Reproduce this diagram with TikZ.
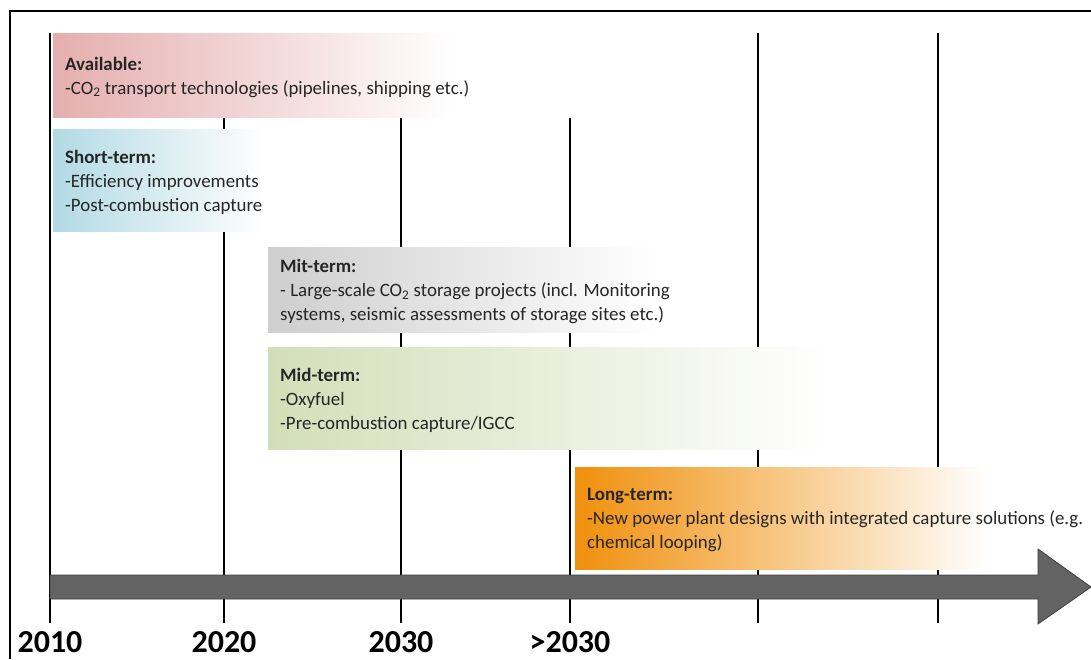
\documentclass[tikz,border=0pt]{standalone}
\usepackage{fontspec}
\setmainfont{Carlito}
\definecolor{availcol}{RGB}{229,174,174}
\definecolor{shortcol}{RGB}{178,218,228}
\definecolor{mitcol}{RGB}{206,206,206}
\definecolor{midcol}{RGB}{211,222,184}
\definecolor{longcol}{RGB}{240,144,12}
\definecolor{arrowcol}{RGB}{99,99,99}
\definecolor{inkcol}{RGB}{38,38,38}
\begin{document}
\begin{tikzpicture}[x=1pt,y=-1pt,
  tick/.style={line width=1.7pt,black},
  frame/.style={line width=2pt,black},
  termbox/.style={anchor=north west,inner sep=0pt,draw=none,
    shading=axis,shading angle=90,right color=white},
  termtext/.style={anchor=west,align=left,inner sep=0pt,text=inkcol,
    font=\fontsize{18.9}{24}\selectfont},
  year/.style={anchor=base,inner sep=0pt,font=\fontsize{32}{32}\selectfont\bfseries}]
\useasboundingbox (0,0) rectangle (1091,659);

% outer frame: top and left edge only
\coordinate (frameNW) at (10,11);
\coordinate (frameNE) at (1091,11);
\coordinate (frameSW) at (10,659);
\draw[frame] (frameSW) -- (frameNW) -- (frameNE);

% decade ticks
\foreach \name/\x/\top in {t2010/50/33, t2020/224/118, t2030/401/118, t2040/570/118, t2050/758/33, t2060/938/33}{
  \coordinate (\name top) at (\x,\top);
  \coordinate (\name bot) at (\x,623);
  \draw[tick] (\name top) -- (\name bot);
}

% technology phases
\node[termbox,left color=availcol,minimum width=399pt,minimum height=84pt] (avail) at (53,33) {};
\node[termtext] (availtext) at ([xshift=12pt,yshift=-2pt]avail.west)
  {\textbf{Available:}\\-CO\textsubscript{2} transport technologies (pipelines, shipping etc.)};

\node[termbox,left color=shortcol,minimum width=212pt,minimum height=102pt] (short) at (53,129) {};
\node[termtext] (shorttext) at ([xshift=12pt,yshift=-2pt]short.west)
  {\textbf{Short-term:}\\-Efficiency improvements\\-Post-combustion capture};

\node[termbox,left color=mitcol,minimum width=390pt,minimum height=85pt] (mit) at (268,247) {};
\node[termtext] (mittext) at ([xshift=12pt,yshift=-2pt]mit.west)
  {\textbf{Mit-term:}\\- Large-scale CO\textsubscript{2} storage projects (incl. Monitoring\\systems, seismic assessments of storage sites etc.)};

\node[termbox,left color=midcol,minimum width=560pt,minimum height=102pt] (mid) at (268,347) {};
\node[termtext] (midtext) at ([xshift=12pt,yshift=-2pt]mid.west)
  {\textbf{Mid-term:}\\-Oxyfuel\\-Pre-combustion capture/IGCC};

\node[termbox,left color=longcol,minimum width=413pt,minimum height=102pt] (long) at (575,467) {};
\node[termtext] (longtext) at ([xshift=12pt,yshift=-2pt]long.west)
  {\textbf{Long-term:}\\-New power plant designs with integrated capture solutions (e.g.\\chemical looping)};

% time arrow
\coordinate (arrA) at (50,575);
\coordinate (arrB) at (1038,575);
\coordinate (arrC) at (1038,549);
\coordinate (arrTip) at (1091,587);
\coordinate (arrD) at (1038,624);
\coordinate (arrE) at (1038,599);
\coordinate (arrF) at (50,599);
\filldraw[fill=arrowcol,draw=black!75,line width=0.8pt]
  (arrA) -- (arrB) -- (arrC) -- (arrTip) -- (arrD) -- (arrE) -- (arrF) -- cycle;

% year labels
\node[year] (y2010) at (50,652) {2010};
\node[year] (y2020) at (224,652) {2020};
\node[year] (y2030) at (401,652) {2030};
\node[year] (y2040) at (570,652) {>2030};
\end{tikzpicture}
\end{document}
